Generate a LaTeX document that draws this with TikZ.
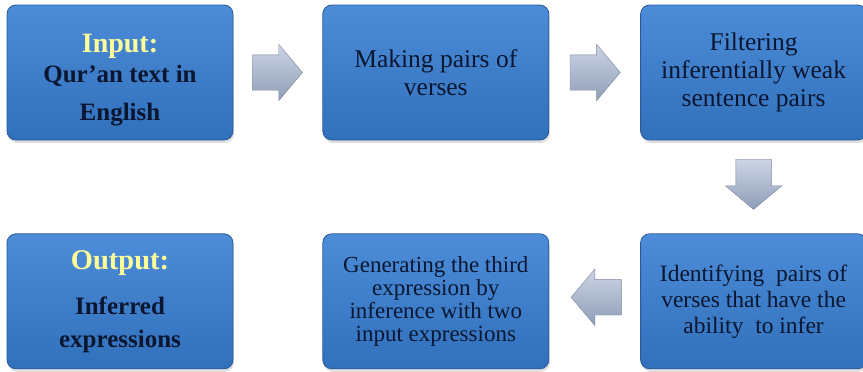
\documentclass[tikz,border=0pt]{standalone}
\usepackage{fontspec}
\setmainfont{Liberation Serif}
\usetikzlibrary{calc,positioning,shapes,arrows,shadows}
\definecolor{boxtop}{HTML}{4C8CD8}
\definecolor{boxmid}{HTML}{3D7BC7}
\definecolor{boxbot}{HTML}{3170BB}
\definecolor{boxline}{HTML}{2A5A98}
\definecolor{ink}{HTML}{0B1630}
\definecolor{hilite}{HTML}{FFFF99}
\definecolor{arrtop}{HTML}{CCD5E5}
\definecolor{arrbot}{HTML}{8F9DB7}
\begin{document}
\begin{tikzpicture}[x=1pt,y=1pt,
  box/.style={rectangle,rounded corners=9pt,minimum width=226pt,minimum height=135pt,
    top color=boxtop,middle color=boxmid,bottom color=boxbot,draw=boxline,line width=0.8pt,
    drop shadow={opacity=0.25,shadow xshift=1pt,shadow yshift=-3pt},
    text=ink,align=center,inner sep=2pt,font=\fontsize{25.5}{28}\selectfont},
  blk/.style={single arrow,single arrow head extend=10.5pt,single arrow tip angle=100,
    minimum height=49pt,minimum width=56pt,inner sep=17.5pt,
    top color=arrtop,bottom color=arrbot,draw=arrbot!85!black,line width=0.4pt},
  node distance=89pt and 89pt]
\useasboundingbox (0,0) rectangle (863,-372);
\node[box,font=\fontsize{25}{28}\selectfont\bfseries] (in) at (120,-72.5)
  {\rule{0pt}{33pt}{\fontsize{28}{28}\selectfont\color{hilite}Input:}\\[2pt]
  Qur’an text in\\[10pt]English};
\node[box,right=89pt of in] (pairs) {Making pairs of\\verses};
\node[box,right=91pt of pairs] (filt) {Filtering\\inferentially weak\\sentence pairs};
\node[box,below=93pt of filt,font=\fontsize{23.5}{26}\selectfont] (ident) {Identifying~ pairs of\\verses that have the\\ability~ to infer};
\node[box,left=91pt of ident,font=\fontsize{23}{23}\selectfont] (gen) {Generating the third\\expression by\\inference with two\\input expressions};
\node[box,left=89pt of gen,font=\fontsize{25}{28}\selectfont\bfseries] (out)
  {{\fontsize{28.5}{28}\selectfont\color{hilite}Output:}\\[17pt]
  Inferred\\[5pt]expressions};
\node[blk] (a1) at ($(in.east)!0.5!(pairs.west)+(-8,0)$) {};
\node[blk] (a2) at ($(pairs.east)!0.5!(filt.west)+(-7,0)$) {};
\node[blk,shape border rotate=270] (a3) at ($(filt.south)!0.5!(ident.north)+(0,10)$) {};
\node[blk,shape border rotate=180] (a4) at ($(ident.west)!0.5!(gen.east)+(9,4)$) {};
\end{tikzpicture}
\end{document}
